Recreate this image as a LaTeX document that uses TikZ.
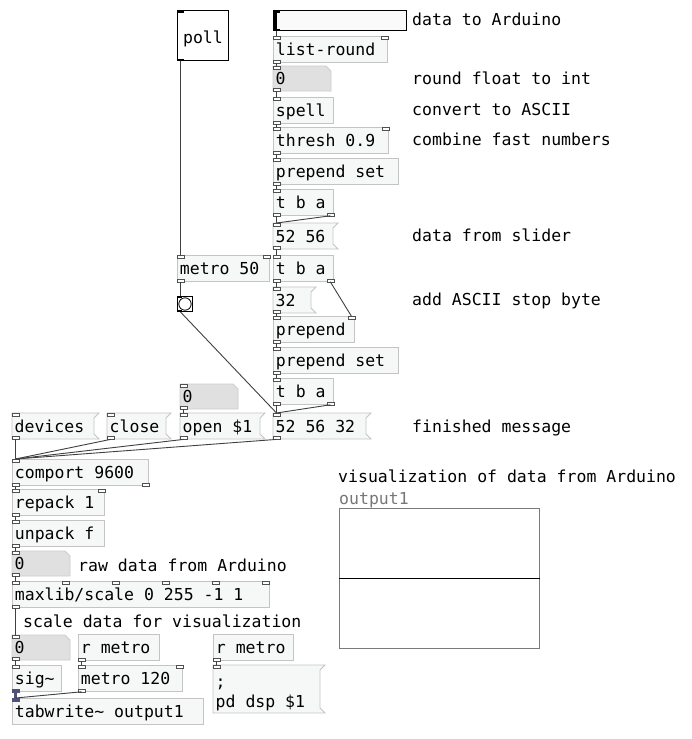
\documentclass[tikz,border=0pt]{standalone}
\usepackage{fontspec}
\newfontfamily\pdmono{DejaVu Sans Mono}
\definecolor{objborder}{HTML}{C4C4C4}
\definecolor{objfill}{HTML}{F6F8F8}
\definecolor{atomfill}{HTML}{E0E0E0}
\definecolor{atomborder}{HTML}{CDCDCD}
\definecolor{wirecol}{HTML}{404040}
\definecolor{sigcol}{HTML}{50507A}
\definecolor{iocol}{HTML}{505050}
\definecolor{graphcol}{HTML}{7A7A7A}
\definecolor{labelcol}{HTML}{777777}

\tikzset{
 pdtext/.style={font=\pdmono\fontsize{16.5}{20}\selectfont, text=black},
 boxnode/.style={pdtext, rectangle, anchor=north west, inner xsep=2.5pt, inner ysep=0pt,
   minimum height=26pt, text height=14pt, text depth=2pt,
   execute at begin node={\spaceskip=0pt\xspaceskip=0pt\relax}},
 objbox/.style={boxnode, draw=objborder, fill=objfill, line width=0.8pt},
 plainbox/.style={boxnode, draw=none, fill=none},
 msgshape/.style={draw=objborder, fill=objfill, line width=0.8pt},
 atomshape/.style={draw=atomborder, fill=atomfill, line width=0.8pt},
 iolet/.style={draw=iocol, fill=white, line width=0.6pt},
 sigiolet/.style={draw=sigcol, fill=sigcol, line width=0.6pt},
 wire/.style={draw=wirecol, line width=0.9pt},
 sigwire/.style={draw=sigcol, line width=2.2pt},
 comment/.style={pdtext, anchor=base west, inner sep=0pt},
 guibox/.style={draw=black, line width=1pt, fill=white, anchor=north west, inner sep=0pt},
}

\newcommand\pdobj[5]{\pgfmathsetmacro\pdtw{#4-5}\node[objbox, text width=\pdtw pt] (#1) at (#2,#3) {#5\hfill};}
\newcommand\pdmsg[5]{%
 \path[msgshape] (#2,#3) -- ++({#4+5},0) -- ++(-5,5) -- ++(0,16) -- ++(5,5) -- ++({-#4-5},0) -- cycle;
 \pgfmathsetmacro\pdtw{#4-5}\node[plainbox, text width=\pdtw pt] (#1) at (#2,#3) {#5\hfill};}
\newcommand\pdatom[4]{%
 \path[atomshape] (#2,#3) -- ++(53,0) -- ++(5,5) -- ++(0,20) -- ++(-58,0) -- cycle;
 \node[plainbox, minimum height=25pt, text width=53pt] (#1) at (#2,#3) {#4\hfill};}
\newcommand\pdin[1]{\path[iolet] (#1.north west) rectangle ++(7,3);}
\newcommand\pdinr[1]{\path[iolet] (#1.north east) rectangle ++(-7,3);}
\newcommand\pdout[1]{\path[iolet] (#1.south west) rectangle ++(7,-3);}
\newcommand\pdoutr[1]{\path[iolet] (#1.south east) rectangle ++(-7,-3);}
\newcommand\wll[2]{\draw[wire] ([xshift=3.5pt]#1.south west) -- ([xshift=3.5pt]#2.north west);}
\newcommand\wrl[2]{\draw[wire] ([xshift=-3.5pt]#1.south east) -- ([xshift=3.5pt]#2.north west);}
\newcommand\wrr[2]{\draw[wire] ([xshift=-3.5pt]#1.south east) -- ([xshift=-3.5pt]#2.north east);}

\begin{document}
\begin{tikzpicture}[x=1pt,y=-1pt]
\fill[white] (0,0) rectangle (691,739);
\useasboundingbox (0,0) rectangle (691,739);

% GUI objects
\node[guibox, minimum width=51pt, minimum height=50pt, pdtext, text height=16pt, text depth=0pt] (poll) at (177,10) {poll};
\fill[black] (poll.north west) rectangle ++(7,2.5);
\fill[black] (poll.south west) rectangle ++(7,-2.5);

\node[guibox, fill=white!98!black, minimum width=133pt, minimum height=20pt] (slider) at (273,10) {};
\fill[black] (slider.north west) rectangle ++(4,20);
\fill[black] (slider.north west) rectangle ++(7,2.5);
\fill[black] (slider.south west) rectangle ++(7,-2.5);

\node[guibox, minimum width=15pt, minimum height=15pt] (bang) at (177,296) {};
\draw[black, line width=0.8pt] (bang.center) circle (6.2pt);
\fill[black] (bang.north west) rectangle ++(5,2);
\fill[black] (bang.south west) rectangle ++(5,-2);

% right column
\pdobj{listround}{273}{36}{114}{list-round}
\pdatom{aone}{273}{66}{0}
\pdobj{spell}{273}{97}{60}{spell}
\pdobj{thresh}{273}{127}{115}{thresh 0.9}
\pdobj{psone}{273}{158}{125}{prepend set}
\pdobj{tbaone}{273}{189}{60}{t b a}
\pdmsg{mfivesix}{273}{223}{60}{52 56}
\pdobj{tbatwo}{273}{255}{60}{t b a}
\pdobj{metrofifty}{177}{255}{92}{metro 50}
\pdmsg{mthirtytwo}{273}{287}{38}{32}
\pdobj{prepend}{273}{316}{81}{prepend}
\pdobj{pstwo}{273}{347}{125}{prepend set}
\pdobj{tbathree}{273}{378}{60}{t b a}
\pdatom{atwo}{180}{384}{0}

% message row
\pdmsg{devices}{12}{413}{82}{devices}
\pdmsg{close}{107}{413}{59}{close}
\pdmsg{open}{180}{413}{80}{open \$1}
\pdmsg{finalmsg}{273}{413}{93}{52 56 32}

% left column
\pdobj{comport}{12}{459}{136}{comport 9600}
\pdobj{repack}{12}{489}{92}{repack 1}
\pdobj{unpack}{12}{520}{92}{unpack f}
\pdatom{athree}{12}{551}{0}
\pdobj{maxlib}{12}{581}{257}{maxlib/scale 0 255 -1 1}
\pdatom{afour}{12}{635}{0}
\pdobj{rmetroone}{78}{634}{81}{r metro}
\pdobj{rmetrotwo}{213}{634}{80}{r metro}
\pdobj{sig}{12}{665}{49}{sig\textasciitilde}
\pdobj{metrotwenty}{78}{665}{104}{metro 120}
\pdobj{tabwrite}{12}{698}{191}{tabwrite\textasciitilde{} output1}
% ; pd dsp $1 message (two lines)
\path[msgshape] (213,665) -- ++(112,0) -- ++(-5,5) -- ++(0,38) -- ++(5,5) -- ++(-112,0) -- cycle;
\node[plainbox, minimum height=48pt, text height=22pt, text depth=26pt, text width=102pt] (pddsp) at (213,665) {;\hfill\\pd dsp \$1\hfill};

% graph
\node[draw=graphcol, line width=1pt, fill=white, minimum width=200pt, minimum height=140pt, anchor=north west, inner sep=0pt] (graph) at (339,508) {};
\draw[black, line width=1pt] (graph.west) -- (graph.east);

% comments
\node[comment] (c1) at (412,25) {data to Arduino};
\node[comment] (c2) at (412,84) {round float to int};
\node[comment] (c3) at (412,115) {convert to ASCII};
\node[comment] (c4) at (412,145) {combine fast numbers};
\node[comment] (c5) at (412,241) {data from slider};
\node[comment] (c6) at (412,305) {add ASCII stop byte};
\node[comment] (c7) at (412,432) {finished message};
\node[comment] (c8) at (338,482) {visualization of data from Arduino};
\node[comment, text=labelcol] (c9) at (339,504) {output1};
\node[comment] (c10) at (78,571) {raw data from Arduino};
\node[comment] (c11) at (23,627) {scale data for visualization};

% inlets / outlets
\foreach \n in {listround,aone,spell,thresh,psone,tbaone,mfivesix,tbatwo,metrofifty,mthirtytwo,prepend,pstwo,tbathree,atwo,devices,close,open,finalmsg,comport,repack,unpack,athree,maxlib,afour,metrotwenty,pddsp}{\pdin{\n}}
\foreach \n in {listround,aone,spell,thresh,psone,tbaone,mfivesix,tbatwo,metrofifty,mthirtytwo,prepend,pstwo,tbathree,atwo,devices,close,open,finalmsg,comport,repack,unpack,athree,maxlib,afour,rmetroone,rmetrotwo,metrotwenty}{\pdout{\n}}
\foreach \n in {listround,thresh,metrofifty,prepend,repack,metrotwenty}{\pdinr{\n}}
\foreach \n in {tbaone,tbatwo,tbathree,comport}{\pdoutr{\n}}
\foreach \k in {50,100,150,200,250}{\path[iolet] ([xshift=\k pt]maxlib.north west) rectangle ++(7,3);}
\path[iolet] (sig.north west) rectangle ++(7,3);
\path[sigiolet] (sig.south west) rectangle ++(7,-3);
\path[sigiolet] (tabwrite.north west) rectangle ++(7,3);

% connections
\draw[wire] ([xshift=3.5pt]slider.south west) -- ([xshift=3.5pt]listround.north west);
\wll{listround}{aone}
\wll{aone}{spell}
\wll{spell}{thresh}
\wll{thresh}{psone}
\wll{psone}{tbaone}
\wll{tbaone}{mfivesix}
\wrl{tbaone}{mfivesix}
\wll{mfivesix}{tbatwo}
\wll{tbatwo}{mthirtytwo}
\wrr{tbatwo}{prepend}
\wll{mthirtytwo}{prepend}
\wll{prepend}{pstwo}
\wll{pstwo}{tbathree}
\wll{tbathree}{finalmsg}
\wrl{tbathree}{finalmsg}
\draw[wire] ([xshift=3.5pt]poll.south west) -- ([xshift=3.5pt]metrofifty.north west);
\wll{metrofifty}{bang}
\draw[wire] ([xshift=3.5pt]bang.south west) -- ([xshift=3.5pt]finalmsg.north west);
\wll{atwo}{open}
\wll{devices}{comport}
\wll{close}{comport}
\wll{open}{comport}
\wll{finalmsg}{comport}
\wll{comport}{repack}
\wll{repack}{unpack}
\wll{unpack}{athree}
\wll{athree}{maxlib}
\wll{maxlib}{afour}
\wll{afour}{sig}
\draw[sigwire] ([xshift=3.5pt]sig.south west) -- ([xshift=3.5pt]tabwrite.north west);
\wll{rmetroone}{metrotwenty}
\wll{metrotwenty}{tabwrite}
\wll{rmetrotwo}{pddsp}
\end{tikzpicture}
\end{document}
